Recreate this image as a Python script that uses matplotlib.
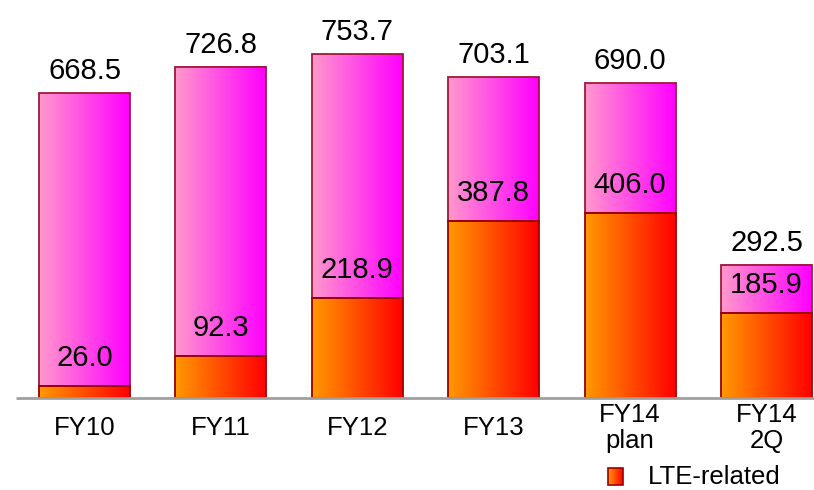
import numpy as np
import matplotlib
matplotlib.use('Agg')
import matplotlib.pyplot as plt
from matplotlib.colors import LinearSegmentedColormap
from matplotlib.patches import Rectangle

plt.rcParams['font.family'] = ['Liberation Sans', 'DejaVu Sans']

categories = ['FY10', 'FY11', 'FY12', 'FY13', 'FY14\nplan', 'FY14\n2Q']
totals = [668.5, 726.8, 753.7, 703.1, 690.0, 292.5]
lte = [26.0, 92.3, 218.9, 387.8, 406.0, 185.9]

pink = LinearSegmentedColormap.from_list('pink', ['#ff99cc', '#ff00ff'])
orange = LinearSegmentedColormap.from_list('orange', ['#ff9900', '#ff0000'])
grad = np.linspace(0, 1, 256).reshape(1, -1)

W, H = 814, 490
fig = plt.figure(figsize=(W / 100, H / 100), dpi=100)
ax = fig.add_axes([17 / W, 92 / H, 1 - 17 / W, 398 / H])
ax.set_xlim(-0.495, 5.348)
ax.set_ylim(0, 872.8)
ax.axis('off')

bw = 0.667


def grad_bar(x, y0, y1, cmap, edge):
    ax.imshow(grad, cmap=cmap, aspect='auto', interpolation='bicubic',
              extent=(x - bw / 2, x + bw / 2, y0, y1), zorder=2)
    ax.add_patch(Rectangle((x - bw / 2, y0), bw, y1 - y0, fill=False,
                           edgecolor=edge, linewidth=1.3, zorder=3))


for i, (cat, tot, l) in enumerate(zip(categories, totals, lte)):
    grad_bar(i, l, tot, pink, '#a01838')
    grad_bar(i, 0, l, orange, '#990000')
    ax.text(i, tot + 48, f'{tot:.1f}', ha='center', va='center', fontsize=21)
    ax.text(i, l + 62, f'{l:.1f}', ha='center', va='center', fontsize=21)
    ax.text(i, -66, cat, ha='center', va='center', fontsize=18.5,
            linespacing=1.08)

# baseline
ax.plot([-0.5, 5.4], [0, 0], color='#a0a0a0', linewidth=2, zorder=4,
        clip_on=False, solid_capstyle='butt')

# legend
lax = fig.add_axes([608 / W, (H - 485) / H, 15 / W, 17 / H])
lax.imshow(grad, cmap=orange, aspect='auto', extent=(0, 1, 0, 1))
lax.add_patch(Rectangle((0, 0), 1, 1, fill=False, edgecolor='#990000',
                        linewidth=1.2, transform=lax.transAxes, clip_on=False))
lax.set_xlim(0, 1)
lax.set_ylim(0, 1)
lax.axis('off')
fig.text(648 / W, (H - 477) / H, 'LTE-related', ha='left', va='center',
         fontsize=18.5)

fig.savefig('out.png', dpi=100)
